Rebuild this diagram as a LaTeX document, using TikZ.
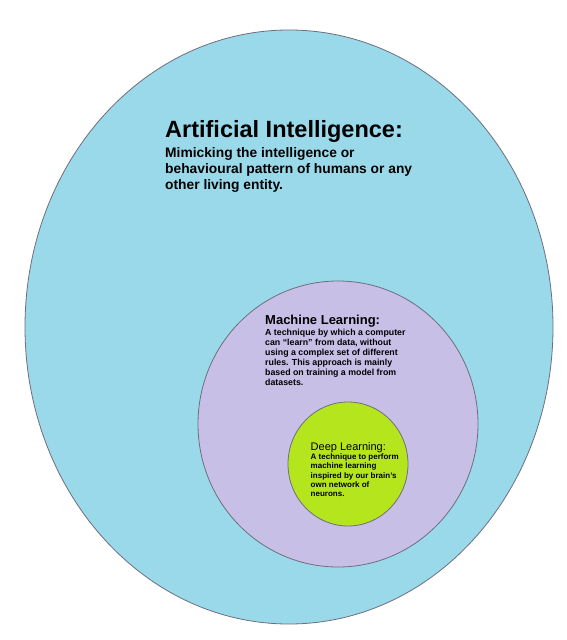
\documentclass[tikz,border=0pt]{standalone}
\usepackage{fontspec}
\setmainfont{Liberation Sans}
\definecolor{aiblue}{HTML}{99D9EA}
\definecolor{mllav}{HTML}{C8BFE7}
\definecolor{dlgreen}{HTML}{B5E61D}
\definecolor{edge}{HTML}{6E6E80}
\tikzset{
  region/.style={draw=edge, line width=0.8pt},
  title/.style={anchor=base west, inner sep=0pt, text=black},
  body/.style={anchor=north west, inner sep=0pt, align=left, text=black, font=\bfseries}
}
\begin{document}
\begin{tikzpicture}[x=1pt,y=-1pt]
\useasboundingbox (0,0) rectangle (566,640);
\fill[white] (0,0) rectangle (566,640);
\filldraw[region, fill=aiblue] (289,327) ellipse [x radius=264pt, y radius=297pt];
\filldraw[region, fill=mllav] (338,424) ellipse [x radius=140pt, y radius=143pt];
\filldraw[region, fill=dlgreen] (348,464) ellipse [x radius=60pt, y radius=62pt];
\node[title, font=\bfseries\fontsize{23.5}{26}\selectfont] (aiT) at (165,137) {Artificial Intelligence:};
\node[body, font=\bfseries\fontsize{13.8}{16.3}\selectfont] (aiB) at (165,146.8)
  {Mimicking the intelligence or\\behavioural pattern of humans or any\\other living entity.};
\node[title, font=\bfseries\fontsize{13}{15}\selectfont] (mlT) at (265,324.3) {Machine Learning:};
\node[body, font=\bfseries\fontsize{8.8}{10}\selectfont] (mlB) at (265,329.3)
  {A technique by which a computer\\can ``learn'' from data, without\\using a complex set of different\\rules. This approach is mainly\\based on training a model from\\datasets.};
\node[title, font=\fontsize{11}{13}\selectfont] (dlT) at (310.5,450.5) {Deep Learning:};
\node[body, font=\bfseries\fontsize{8}{9.3}\selectfont] (dlB) at (310.5,453.5)
  {A technique to perform\\machine learning\\inspired by our brain's\\own network of\\neurons.};
\end{tikzpicture}
\end{document}
